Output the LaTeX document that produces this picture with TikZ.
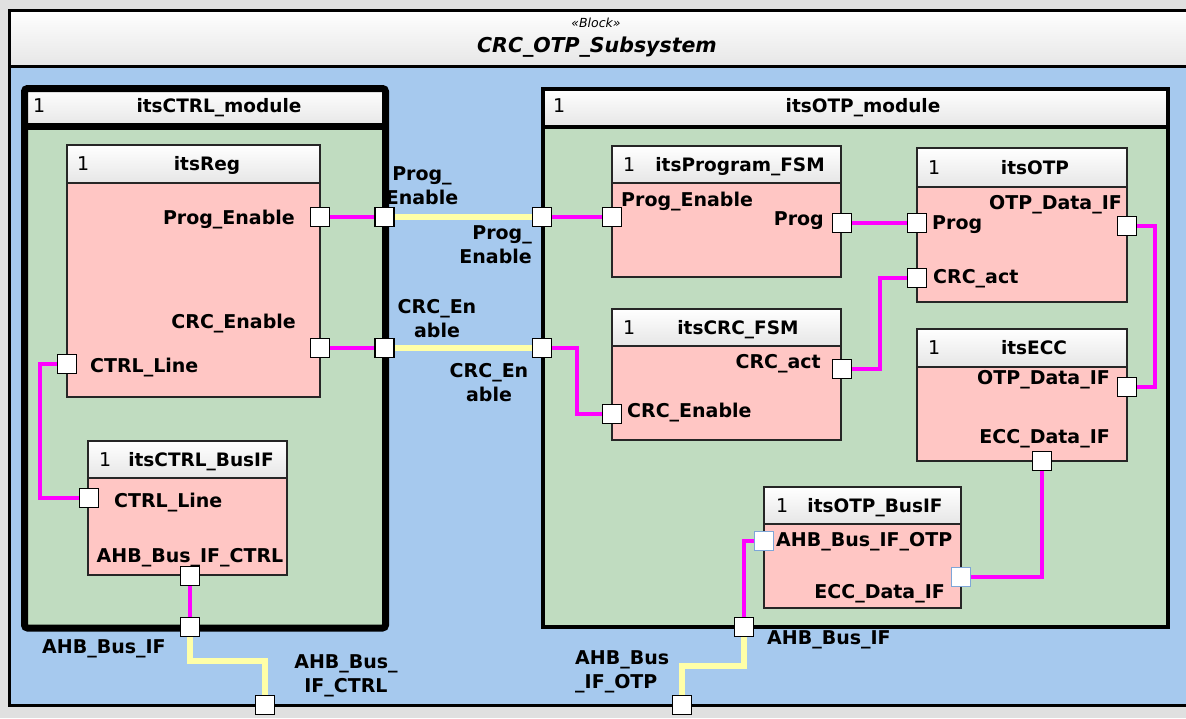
\documentclass[tikz,border=0pt]{standalone}
\usepackage{fontspec}
\setmainfont{DejaVu Sans}
\usetikzlibrary{calc}
\definecolor{graybg}{HTML}{E0E0E0}
\definecolor{bluebg}{HTML}{A6C9EE}
\definecolor{greenbg}{HTML}{C0DCC0}
\definecolor{pinkbg}{HTML}{FFC6C4}
\definecolor{hdrgray}{HTML}{E6E6E6}
\definecolor{magline}{HTML}{FF00FF}
\definecolor{yelline}{HTML}{FFFFA8}
\definecolor{portblue}{HTML}{7EA6D8}
\newcommand\lblf{\fontsize{19}{24}\selectfont\bfseries}
\newcommand\ttlf{\fontsize{18.5}{24}\selectfont\bfseries}
\newcommand\onef{\fontsize{19}{24}\selectfont}
\pgfdeclarelayer{bg}
\pgfdeclarelayer{conn}
\pgfsetlayers{bg,conn,main}
% name, x1, y1, x2, y2, yheader, title, title-x, one-x
\newcommand\PartBox[9]{%
  \begin{pgfonlayer}{bg}
    \fill[pinkbg] (#2,#6) rectangle (#4,#5);
    \shade[top color=white,bottom color=hdrgray] (#2,#3) rectangle (#4,#6);
    \draw[partline] (#2,#3) rectangle (#4,#5);
    \draw[partline] (#2,#6) -- (#4,#6);
  \end{pgfonlayer}
  \node[onetxt,anchor=west] (#1-one) at (#9,{(#3+#6)/2}) {1};
  \node[ttl] (#1-title) at (#8,{(#3+#6)/2}) {#7};
}
\begin{document}
\begin{tikzpicture}[x=1pt,y=-1pt,
  lbl/.style={font=\lblf,inner sep=0pt,text height=13.8pt,text depth=0pt},
  ttl/.style={font=\ttlf,inner sep=0pt,text height=13.5pt,text depth=0pt},
  lbl2/.style={font=\lblf,inner sep=0pt,align=#1},
  onetxt/.style={font=\onef,inner sep=0pt,text height=13.8pt,text depth=0pt},
  partline/.style={draw=black!85,line width=1.4pt},
  port/.style={draw=black,fill=white,line width=1.4pt,minimum size=19pt,inner sep=0pt},
  bport/.style={port,draw=portblue},
  mag/.style={draw=magline,line width=4pt},
  yel/.style={draw=yelline,line width=5.5pt}]
\useasboundingbox (0,0) rectangle (1186,718);
\begin{pgfonlayer}{bg}
  \fill[graybg] (0,0) rectangle (1186,718);
  \shade[top color=white,bottom color=hdrgray] (9.5,10) rectangle (1189,66.5);
  \fill[bluebg] (9.5,66.5) rectangle (1189,705);
  \draw[line width=3pt] (9.5,10) rectangle (1189,705);
  \draw[line width=3pt] (9.5,66.5) -- (1189,66.5);
  % itsCTRL_module
  \fill[greenbg] (24.5,88.5) rectangle (385.5,628);
  \shade[top color=white,bottom color=hdrgray] (24.5,88.5) rectangle (385.5,126.5);
  \draw[line width=7pt,rounded corners=3pt] (24.5,88.5) rectangle (385.5,628);
  \draw[line width=7pt] (24.5,126.5) -- (385.5,126.5);
  % itsOTP_module
  \fill[greenbg] (543,89) rectangle (1168,626.5);
  \shade[top color=white,bottom color=hdrgray] (543,89) rectangle (1168,126.5);
  \draw[line width=4pt] (543,89) rectangle (1168,626.5);
  \draw[line width=4pt] (543,126.5) -- (1168,126.5);
\end{pgfonlayer}
% titles
\node[font=\fontsize{12.5}{14}\selectfont\itshape,inner sep=0pt] (stereo) at (596,23) {«Block»};
\node[font=\fontsize{20.5}{24}\selectfont\bfseries\itshape,inner sep=0pt,text height=15pt,text depth=0pt] (sysname) at (597,45) {CRC\_OTP\_Subsystem};
\node[onetxt,anchor=west] (mc-one) at (33,106) {1};
\node[ttl] (mc-title) at (219,106) {itsCTRL\_module};
\node[onetxt,anchor=west] (mo-one) at (553,106) {1};
\node[ttl] (mo-title) at (863,106) {itsOTP\_module};
% parts
\PartBox{reg}{67}{145}{320}{397}{183}{itsReg}{207}{77}
\PartBox{cbus}{88}{441}{287}{575}{478}{itsCTRL\_BusIF}{201}{99}
\PartBox{pfsm}{612}{146}{841}{277}{183}{itsProgram\_FSM}{740}{623}
\PartBox{cfsm}{612}{309}{841}{440}{346}{itsCRC\_FSM}{738}{623}
\PartBox{otp}{917}{148}{1127}{302}{187}{itsOTP}{1035}{928}
\PartBox{ecc}{917}{329}{1127}{461}{367}{itsECC}{1034}{928}
\PartBox{obus}{764}{487}{961}{608}{524}{itsOTP\_BusIF}{875}{776}
% ports
\node[port] (reg-pe) at (320,217) {};
\node[port] (reg-ce) at (320,348) {};
\node[port] (reg-cl) at (67,364) {};
\node[port] (cbus-cl) at (89,498) {};
\node[port] (cbus-ahb) at (190,576) {};
\node[port] (mc-pe) at (384.5,217) {};
\node[port] (mc-ce) at (384.5,348) {};
\node[port] (mc-ahb) at (190,627) {};
\node[port] (mo-pe) at (542,217) {};
\node[port] (mo-ce) at (542,348) {};
\node[port] (mo-ahb) at (744,627) {};
\node[port] (pfsm-pe) at (612,217) {};
\node[port] (pfsm-prog) at (842,223) {};
\node[port] (cfsm-act) at (842,369) {};
\node[port] (cfsm-ce) at (612,414) {};
\node[port] (otp-prog) at (917,223) {};
\node[port] (otp-act) at (917,278) {};
\node[port] (otp-data) at (1127,226) {};
\node[port] (ecc-otp) at (1127,387) {};
\node[port] (ecc-ecc) at (1042,461) {};
\node[bport] (obus-ahb) at (764,541) {};
\node[bport] (obus-ecc) at (961,577) {};
\node[port] (out-ctrl) at (265,705) {};
\node[port] (out-otp) at (682,705) {};
% connectors
\begin{pgfonlayer}{conn}
  \draw[mag] (reg-pe.center) -- (mc-pe.center);
  \draw[yel] (mc-pe.center) -- (mo-pe.center);
  \draw[mag] (mo-pe.center) -- (pfsm-pe.center);
  \draw[mag] (reg-ce.center) -- (mc-ce.center);
  \draw[yel] (mc-ce.center) -- (mo-ce.center);
  \draw[mag] (mo-ce.center) -- ++(35,0) |- (cfsm-ce.center);
  \draw[mag] (pfsm-prog.center) -- (otp-prog.center);
  \draw[mag] (cfsm-act.center) -- ++(38,0) |- (otp-act.center);
  \draw[mag] (otp-data.center) -- ++(28,0) |- (ecc-otp.center);
  \draw[mag] (ecc-ecc.center) |- (obus-ecc.center);
  \draw[mag] (obus-ahb.center) -| (mo-ahb.center);
  \draw[yel] (mo-ahb.center) -- ++(0,39) -| (out-otp.center);
  \draw[mag] (reg-cl.center) -- ++(-27,0) |- (cbus-cl.center);
  \draw[mag] (cbus-ahb.center) -- (mc-ahb.center);
  \draw[yel] (mc-ahb.center) -- ++(0,34) -| (out-ctrl.center);
\end{pgfonlayer}
% port labels
\node[lbl,anchor=east] (l-reg-pe) at (295,218) {Prog\_Enable};
\node[lbl,anchor=east] (l-reg-ce) at (296,322) {CRC\_Enable};
\node[lbl,anchor=west] (l-reg-cl) at (90,366) {CTRL\_Line};
\node[lbl,anchor=west] (l-cbus-cl) at (114,501) {CTRL\_Line};
\node[lbl] (l-cbus-ahb) at (190,556) {AHB\_Bus\_IF\_CTRL};
\node[lbl,anchor=west] (l-pfsm-pe) at (621,200) {Prog\_Enable};
\node[lbl,anchor=east] (l-pfsm-prog) at (824,219) {Prog};
\node[lbl,anchor=east] (l-cfsm-act) at (821,362) {CRC\_act};
\node[lbl,anchor=west] (l-cfsm-ce) at (627,411) {CRC\_Enable};
\node[lbl,anchor=east] (l-otp-data) at (1122,203) {OTP\_Data\_IF};
\node[lbl,anchor=west] (l-otp-prog) at (932,223) {Prog};
\node[lbl,anchor=west] (l-otp-act) at (933,277) {CRC\_act};
\node[lbl,anchor=east] (l-ecc-otp) at (1110,378) {OTP\_Data\_IF};
\node[lbl,anchor=east] (l-ecc-ecc) at (1110,437) {ECC\_Data\_IF};
\node[lbl,anchor=west] (l-obus-ahb) at (776,540) {AHB\_Bus\_IF\_OTP};
\node[lbl,anchor=east] (l-obus-ecc) at (945,592) {ECC\_Data\_IF};
% module / system port labels
\node[lbl2=center] (l-mc-pe) at (422,186) {Prog\_\\Enable};
\node[lbl2=right,anchor=east] (l-mo-pe) at (532,245) {Prog\_\\Enable};
\node[lbl2=center] (l-mc-ce) at (437,319) {CRC\_En\\able};
\node[lbl2=center] (l-mo-ce) at (489,383) {CRC\_En\\able};
\node[lbl,anchor=west] (l-mc-ahb) at (42,647) {AHB\_Bus\_IF};
\node[lbl,anchor=west] (l-mo-ahb) at (767,638) {AHB\_Bus\_IF};
\node[lbl2=center] (l-out-ctrl) at (346,676) {AHB\_Bus\_\\IF\_CTRL};
\node[lbl2=left,anchor=west] (l-out-otp) at (575,672) {AHB\_Bus\\\_IF\_OTP};
\end{tikzpicture}
\end{document}
